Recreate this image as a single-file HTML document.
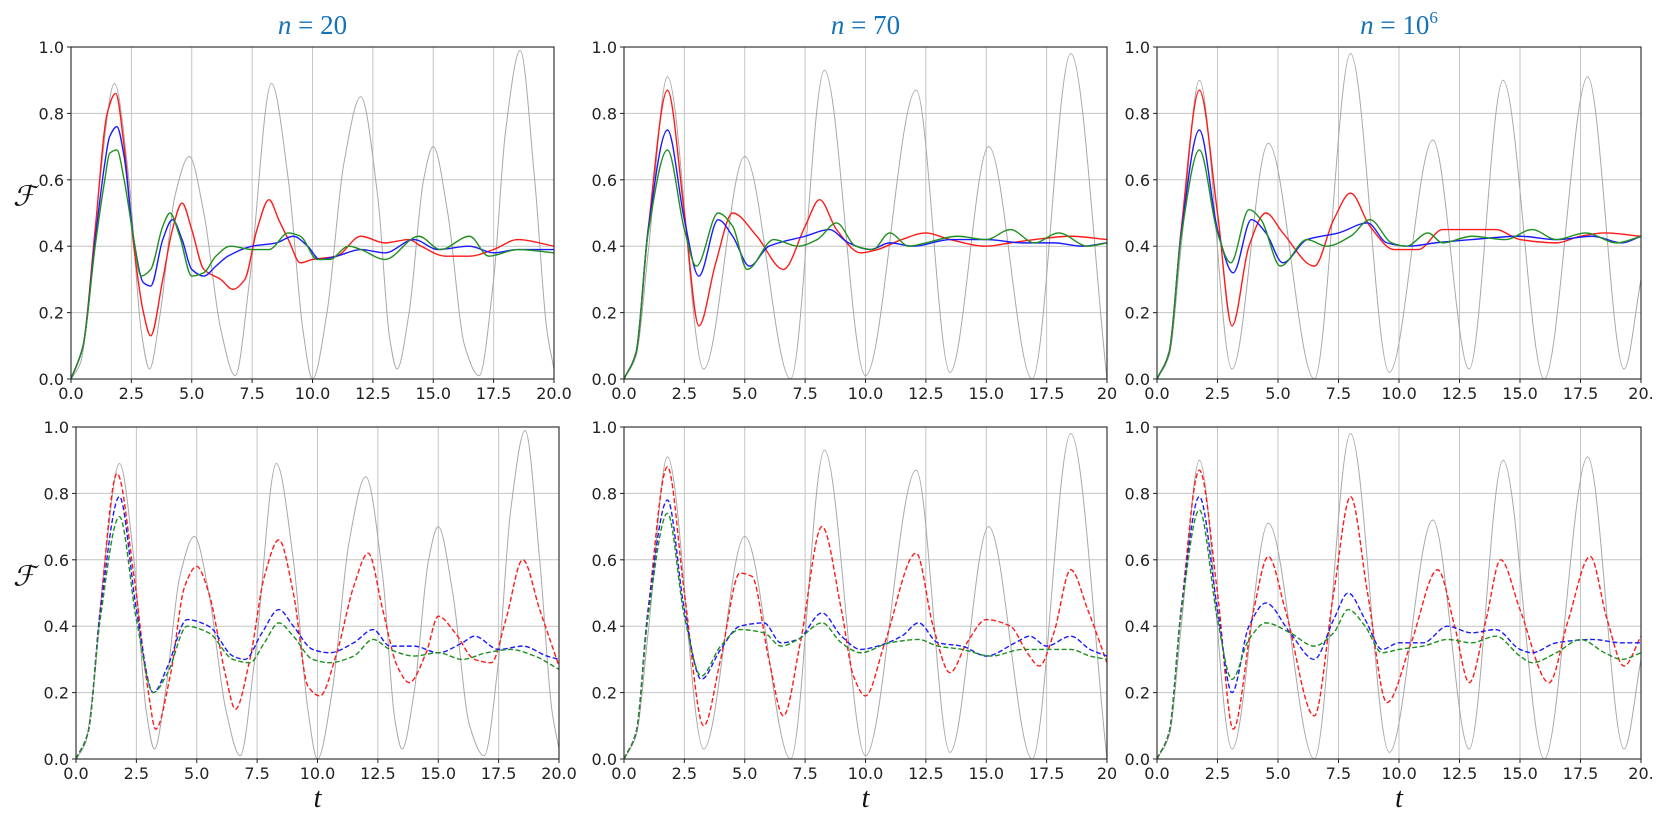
<!DOCTYPE html>
<html><head><meta charset="utf-8"><style>
body{margin:0;background:#fff;}
svg{display:block;font-family:"DejaVu Sans","Liberation Sans",sans-serif;}
</style></head><body>
<svg id="chart" width="1660" height="820" viewBox="0 0 1660 820" xmlns="http://www.w3.org/2000/svg"></svg>
<script>
// ---- data: each series as [t, F] key points ----
const greyCol1 = [[0,0],[0.4,0.05],[0.7,0.2],[1.2,0.6],[1.8,0.89],[2.4,0.6],[2.9,0.15],[3.25,0.03],[3.7,0.2],[4.3,0.55],[4.9,0.67],[5.5,0.5],[6.2,0.15],[6.8,0.01],[7.4,0.3],[8.3,0.89],[9.0,0.6],[9.6,0.15],[10.0,0.0],[10.6,0.2],[11.3,0.65],[12.0,0.85],[12.7,0.55],[13.2,0.12],[13.5,0.03],[14.0,0.2],[14.6,0.6],[15.0,0.70],[15.6,0.5],[16.3,0.1],[16.9,0.01],[17.5,0.3],[18.0,0.75],[18.6,0.99],[19.2,0.6],[19.7,0.15],[20,0.03]];
const greyCol2 = [[0,0],[0.5,0.07],[1.0,0.38],[1.8,0.91],[3.3,0.03],[5.0,0.67],[6.9,0.0],[8.3,0.93],[10.0,0.01],[12.1,0.87],[13.5,0.02],[15.1,0.70],[16.9,0.0],[18.5,0.98],[20,0.0]];
const greyCol3 = [[0,0],[0.5,0.07],[1.0,0.4],[1.75,0.90],[3.1,0.03],[4.6,0.71],[6.5,0.0],[8.0,0.98],[9.6,0.02],[11.4,0.72],[12.9,0.03],[14.3,0.90],[16.0,0.0],[17.8,0.91],[19.3,0.03],[20,0.3]];

const redTop1 = [[0,0],[0.5,0.1],[1.0,0.45],[1.5,0.8],[1.85,0.86],[2.2,0.7],[2.6,0.4],[3.0,0.2],[3.3,0.13],[3.8,0.3],[4.2,0.45],[4.6,0.53],[5.0,0.45],[5.5,0.33],[6.2,0.3],[6.7,0.27],[7.2,0.3],[7.7,0.45],[8.2,0.54],[8.6,0.48],[9.0,0.42],[9.5,0.35],[10,0.36],[11,0.37],[12,0.43],[13,0.41],[14,0.42],[14.5,0.40],[15.5,0.37],[16.5,0.37],[17.5,0.39],[18.5,0.42],[20,0.40]];
const blueTop1 = [[0,0],[0.5,0.1],[1.0,0.42],[1.4,0.65],[1.6,0.73],[1.9,0.76],[2.2,0.67],[2.6,0.42],[3.0,0.29],[3.3,0.28],[3.8,0.42],[4.2,0.48],[4.6,0.42],[5.0,0.33],[5.5,0.31],[6.0,0.34],[6.5,0.37],[7.5,0.40],[8.5,0.41],[9.2,0.43],[9.8,0.40],[10.3,0.36],[11,0.37],[12,0.39],[13,0.38],[14.2,0.42],[15.2,0.39],[16.5,0.40],[17.5,0.38],[18.5,0.39],[20,0.39]];
const greenTop1 = [[0,0],[0.5,0.1],[1,0.4],[1.4,0.6],[1.6,0.68],[1.9,0.69],[2.2,0.6],[2.6,0.42],[2.9,0.31],[3.3,0.33],[3.8,0.46],[4.1,0.50],[4.5,0.43],[5.0,0.31],[5.5,0.32],[6.0,0.37],[6.6,0.40],[7.5,0.39],[8.2,0.39],[9.0,0.44],[9.5,0.43],[10.2,0.36],[10.7,0.36],[11.5,0.40],[12,0.39],[13,0.36],[14.4,0.43],[15.3,0.39],[16.5,0.43],[17.3,0.37],[18.5,0.39],[20,0.38]];

const redTop2 = [[0,0],[0.5,0.08],[1,0.45],[1.8,0.87],[2.5,0.5],[3.1,0.16],[3.8,0.35],[4.5,0.50],[5.5,0.43],[6.6,0.33],[7.5,0.46],[8.1,0.54],[8.8,0.45],[9.8,0.38],[10.5,0.39],[11.5,0.42],[12.5,0.44],[13.5,0.42],[15,0.40],[16,0.41],[17,0.42],[18.5,0.43],[20,0.42]];
const blueTop2 = [[0,0],[0.5,0.08],[1,0.45],[1.8,0.75],[2.5,0.48],[3.1,0.31],[3.9,0.48],[4.5,0.43],[5.2,0.34],[6,0.40],[7.5,0.43],[8.5,0.45],[9.3,0.41],[10.2,0.39],[11,0.41],[12,0.40],[13.5,0.42],[15,0.42],[16.5,0.41],[17.8,0.41],[19,0.40],[20,0.41]];
const greenTop2 = [[0,0],[0.5,0.08],[1,0.44],[1.8,0.69],[2.5,0.45],[3.0,0.34],[3.9,0.50],[4.5,0.46],[5.1,0.33],[6.2,0.42],[7.2,0.40],[8.0,0.42],[8.8,0.47],[9.6,0.40],[10.3,0.39],[11,0.44],[11.8,0.40],[12.5,0.41],[13.8,0.43],[15,0.42],[16,0.45],[17,0.41],[18,0.44],[19.2,0.40],[20,0.41]];

const redTop3 = [[0,0],[0.5,0.08],[1,0.45],[1.75,0.87],[2.5,0.5],[3.1,0.16],[3.8,0.40],[4.5,0.50],[5.2,0.44],[6.5,0.34],[7.3,0.48],[8.0,0.56],[8.8,0.46],[9.8,0.39],[10.8,0.39],[11.8,0.45],[13,0.45],[14,0.45],[15,0.42],[16.5,0.41],[17.5,0.43],[18.5,0.44],[20,0.43]];
const blueTop3 = [[0,0],[0.5,0.08],[1,0.44],[1.75,0.75],[2.5,0.45],[3.15,0.32],[3.9,0.48],[4.5,0.44],[5.2,0.35],[6.2,0.42],[7.5,0.44],[8.7,0.47],[9.5,0.41],[10.4,0.40],[11.5,0.41],[13,0.42],[15,0.43],[16.5,0.42],[18,0.43],[19.2,0.41],[20,0.43]];
const greenTop3 = [[0,0],[0.5,0.08],[1,0.43],[1.75,0.69],[2.5,0.44],[3.05,0.35],[3.8,0.51],[4.3,0.48],[5.1,0.34],[6.2,0.42],[7,0.40],[8.0,0.43],[8.8,0.48],[9.7,0.41],[10.3,0.40],[11.2,0.44],[11.8,0.41],[13,0.43],[14.4,0.42],[15.5,0.45],[16.5,0.42],[17.7,0.44],[19,0.41],[20,0.43]];

const redBot1 = [[0,0],[0.5,0.08],[1,0.45],[1.7,0.86],[2.4,0.55],[3.0,0.2],[3.3,0.09],[3.9,0.25],[4.5,0.52],[5.0,0.58],[5.5,0.5],[6.2,0.25],[6.6,0.15],[7.2,0.3],[7.8,0.55],[8.4,0.66],[9,0.5],[9.6,0.22],[10.1,0.19],[10.8,0.32],[11.5,0.52],[12.1,0.62],[12.7,0.45],[13.3,0.28],[13.8,0.23],[14.5,0.32],[15,0.43],[15.7,0.38],[16.5,0.3],[17.2,0.29],[17.8,0.42],[18.5,0.60],[19.2,0.45],[20,0.28]];
const blueBot1 = [[0,0],[0.5,0.08],[1,0.44],[1.8,0.79],[2.5,0.45],[3.2,0.2],[3.8,0.28],[4.6,0.42],[5.5,0.4],[6.5,0.31],[7,0.3],[7.7,0.38],[8.4,0.45],[9,0.40],[9.8,0.33],[10.5,0.32],[11.5,0.35],[12.3,0.39],[13,0.34],[14,0.34],[15,0.32],[16,0.35],[16.5,0.37],[17.5,0.33],[18.5,0.34],[19.5,0.31],[20,0.30]];
const greenBot1 = [[0,0],[0.5,0.08],[1,0.42],[1.8,0.73],[2.5,0.42],[3.2,0.2],[3.8,0.26],[4.6,0.40],[5.5,0.38],[6.5,0.3],[7.2,0.29],[7.8,0.35],[8.4,0.41],[9,0.37],[9.8,0.3],[10.5,0.29],[11.5,0.31],[12.3,0.36],[13,0.33],[14,0.31],[15,0.32],[16,0.30],[17,0.32],[18,0.33],[19,0.31],[20,0.27]];

const redBot2 = [[0,0],[0.5,0.08],[1,0.45],[1.8,0.88],[2.5,0.5],[3.3,0.1],[4.0,0.3],[4.8,0.56],[5.3,0.55],[6.0,0.30],[6.6,0.13],[7.3,0.35],[8.2,0.70],[9.0,0.45],[9.5,0.25],[10.0,0.19],[10.8,0.35],[12.1,0.62],[12.8,0.40],[13.5,0.26],[14.2,0.35],[15,0.42],[16,0.40],[16.7,0.32],[17.2,0.28],[17.8,0.38],[18.5,0.57],[19.2,0.45],[20,0.29]];
const blueBot2 = [[0,0],[0.5,0.08],[1,0.45],[1.8,0.78],[2.5,0.45],[3.2,0.24],[4,0.33],[4.8,0.40],[5.8,0.41],[6.5,0.35],[7.2,0.36],[8.2,0.44],[9,0.37],[9.8,0.33],[10.5,0.34],[11.5,0.37],[12.2,0.41],[13,0.35],[14,0.34],[15,0.31],[16.2,0.35],[16.8,0.37],[17.5,0.34],[18.5,0.37],[19.3,0.33],[20,0.31]];
const greenBot2 = [[0,0],[0.5,0.08],[1,0.43],[1.8,0.74],[2.5,0.43],[3.2,0.25],[4,0.34],[4.8,0.39],[5.8,0.38],[6.5,0.34],[7.2,0.36],[8.2,0.41],[9,0.35],[9.8,0.32],[11,0.35],[12.2,0.36],[13,0.34],[14,0.33],[15.2,0.31],[16.5,0.33],[17.5,0.33],[18.5,0.33],[19.3,0.31],[20,0.30]];

const redBot3 = [[0,0],[0.5,0.08],[1,0.45],[1.75,0.87],[2.5,0.5],[3.15,0.09],[4,0.45],[4.6,0.61],[5.3,0.45],[6.5,0.13],[7.3,0.5],[8.0,0.79],[8.7,0.5],[9.5,0.17],[10.5,0.35],[11.6,0.57],[12.3,0.4],[12.9,0.23],[13.6,0.42],[14.2,0.60],[15,0.45],[16.2,0.23],[17,0.42],[17.9,0.61],[18.6,0.42],[19.3,0.28],[20,0.37]];
const blueBot3 = [[0,0],[0.5,0.08],[1,0.45],[1.75,0.79],[2.5,0.45],[3.1,0.20],[3.8,0.40],[4.5,0.47],[5.5,0.38],[6.5,0.30],[7.3,0.42],[7.9,0.50],[8.6,0.42],[9.3,0.33],[10,0.35],[11,0.35],[12,0.40],[13,0.38],[14,0.39],[15,0.33],[15.5,0.32],[16.5,0.35],[18,0.36],[19.2,0.35],[20,0.35]];
const greenBot3 = [[0,0],[0.5,0.08],[1,0.44],[1.75,0.75],[2.5,0.42],[3.1,0.24],[3.8,0.36],[4.5,0.41],[5.5,0.38],[6.5,0.34],[7.3,0.38],[7.9,0.45],[8.6,0.40],[9.3,0.32],[10,0.33],[11,0.34],[12,0.36],[13,0.35],[14,0.37],[15,0.31],[15.5,0.29],[16.5,0.32],[17.5,0.36],[18.5,0.32],[19.2,0.30],[20,0.32]];

const xTicks = [0, 2.5, 5, 7.5, 10, 12.5, 15, 17.5, 20];
const yTicks = [0, 0.2, 0.4, 0.6, 0.8, 1.0];
const colTitles = ["20", "70", "10"];

// ---- layout ----
const NS = "http://www.w3.org/2000/svg";
const svg = document.getElementById("chart");
function mk(tag, attrs, parent){
  const e = document.createElementNS(NS, tag);
  for (const k in attrs) e.setAttribute(k, attrs[k]);
  (parent||svg).appendChild(e);
  return e;
}
const panels = [
  {x0:71,x1:554,y0:47,y1:379,grey:greyCol1,red:redTop1,blue:blueTop1,green:greenTop1,dash:false,last:"20.0",name:"top-n20"},
  {x0:624,x1:1107,y0:47,y1:379,grey:greyCol2,red:redTop2,blue:blueTop2,green:greenTop2,dash:false,last:"20",name:"top-n70"},
  {x0:1157,x1:1641,y0:47,y1:379,grey:greyCol3,red:redTop3,blue:blueTop3,green:greenTop3,dash:false,last:"20.",name:"top-n1e6"},
  {x0:76,x1:559,y0:427,y1:759,grey:greyCol1,red:redBot1,blue:blueBot1,green:greenBot1,dash:true,last:"20.0",name:"bottom-n20"},
  {x0:624,x1:1107,y0:427,y1:759,grey:greyCol2,red:redBot2,blue:blueBot2,green:greenBot2,dash:true,last:"20",name:"bottom-n70"},
  {x0:1157,x1:1641,y0:427,y1:759,grey:greyCol3,red:redBot3,blue:blueBot3,green:greenBot3,dash:true,last:"20.",name:"bottom-n1e6"}
];

// monotone cubic path
function pathFor(pts, sx, sy){
  const n = pts.length;
  const xs = pts.map(p=>sx(p[0])), ys = pts.map(p=>sy(p[1]));
  const d = [], m = [];
  for (let i=0;i<n-1;i++) d.push((ys[i+1]-ys[i])/(xs[i+1]-xs[i]));
  for (let i=0;i<n;i++){
    if (i===0) m.push(d[0]); else if (i===n-1) m.push(d[n-2]);
    else if (d[i-1]*d[i]<=0) m.push(0);
    else m.push(2/(1/d[i-1]+1/d[i]));
  }
  let s = "M"+xs[0].toFixed(2)+","+ys[0].toFixed(2);
  for (let i=0;i<n-1;i++){
    const h = (xs[i+1]-xs[i])/3;
    s += " C"+(xs[i]+h).toFixed(2)+","+(ys[i]+m[i]*h).toFixed(2)+" "+(xs[i+1]-h).toFixed(2)+","+(ys[i+1]-m[i+1]*h).toFixed(2)+" "+xs[i+1].toFixed(2)+","+ys[i+1].toFixed(2);
  }
  return s;
}

panels.forEach((p, pi) => {
  const sx = t => p.x0 + (t/20)*(p.x1-p.x0);
  const sy = v => p.y1 - v*(p.y1-p.y0);
  const g = mk("g", {});
  
  
  const cid = "clip"+pi;
  const cp = mk("clipPath", {id:cid}, g);
  mk("rect", {x:p.x0, y:p.y0, width:p.x1-p.x0, height:p.y1-p.y0}, cp);
  xTicks.forEach(t => {
    const l = mk("line", {x1:sx(t), x2:sx(t), y1:p.y0, y2:p.y1, stroke:"#c4c4c4", "stroke-width":1}, g);
    
    
  });
  yTicks.forEach(v => {
    const l = mk("line", {x1:p.x0, x2:p.x1, y1:sy(v), y2:sy(v), stroke:"#c4c4c4", "stroke-width":1}, g);
    
    
  });
  const cg = mk("g", {"clip-path":"url(#"+cid+")"}, g);
  const series = [["grey", p.grey, "#a8a8a8", 1], ["red", p.red, "#ff1a1a", 1.4], ["blue", p.blue, "#1a1aff", 1.4], ["green", p.green, "#1f8f1f", 1.4]];
  series.forEach(s => {
    const attrs = {d:pathFor(s[1], sx, sy), fill:"none", stroke:s[2], "stroke-width":s[3], "stroke-linejoin":"round"};
    if (p.dash && s[0] !== "grey") attrs["stroke-dasharray"] = "5,2.5";
    const el = mk("path", attrs, cg);
    
    
  });
  const fr = mk("rect", {x:p.x0, y:p.y0, width:p.x1-p.x0, height:p.y1-p.y0, fill:"none", stroke:"#222", "stroke-width":1.1}, g);
  
  
  xTicks.forEach((t, i) => {
    mk("line", {x1:sx(t), x2:sx(t), y1:p.y1, y2:p.y1+4, stroke:"#222", "stroke-width":1}, g);
    const tx = mk("text", {x:sx(t), y:p.y1+20, "text-anchor":"middle", "font-size":16, fill:"#222"}, g);
    tx.textContent = i === xTicks.length-1 ? p.last : t.toFixed(1);
    
    
  });
  yTicks.forEach(v => {
    mk("line", {x1:p.x0-4, x2:p.x0, y1:sy(v), y2:sy(v), stroke:"#222", "stroke-width":1}, g);
    const tx = mk("text", {x:p.x0-7, y:sy(v)+6, "text-anchor":"end", "font-size":16, fill:"#222"}, g);
    tx.textContent = v.toFixed(1);
    
    
  });
  if (pi < 3) {
    const tt = mk("text", {x:(p.x0+p.x1)/2, y:34, "text-anchor":"middle", "font-size":27, fill:"#1672b8", "font-family":"Liberation Serif, serif"}, g);
    
    
    const n = mk("tspan", {"font-style":"italic"}, tt); n.textContent = "n";
    const e = mk("tspan", {}, tt); e.textContent = " = " + colTitles[pi];
    if (pi === 2) { const sup = mk("tspan", {dy:-11, "font-size":17}, tt); sup.textContent = "6"; }
  } else {
    const xl = mk("text", {x:(p.x0+p.x1)/2, y:807, "text-anchor":"middle", "font-size":28, "font-style":"italic", fill:"#111", "font-family":"Liberation Serif, serif"}, g);
    xl.textContent = "t";
    
    
  }
  if (pi === 0 || pi === 3) {
    const yl = mk("text", {x:24, y:sy(0.55)+9, "text-anchor":"middle", "font-size":28, "font-style":"italic", fill:"#111", "font-family":"Liberation Serif, DejaVu Serif, serif"}, g);
    yl.textContent = "ℱ";
    
    
  }
});
</script>
</body></html>
